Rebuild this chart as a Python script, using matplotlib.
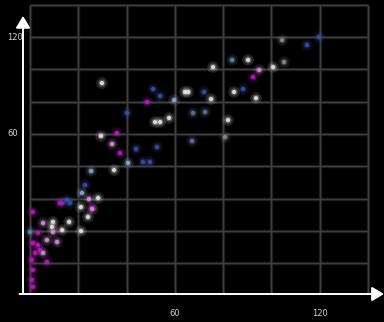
import matplotlib
matplotlib.use("Agg")
import matplotlib.pyplot as plt

# point values
x_vals = [104.4, 114.7, 119.7, 83.7, 90.3, 105.2, 75.8, 94.9, 100.7, 92.4,
          64.2, 65.5, 72.1, 84.5, 88.2, 75.0, 93.6, 67.5, 72.5, 82.0, 80.8,
          29.8, 51.0, 53.9, 48.5, 59.7, 57.6, 51.8, 53.9, 40.2, 29.4, 36.0,
          34.0, 37.3, 43.9, 52.6, 67.1, 40.6, 46.8, 49.7, 25.3, 34.8, 22.8,
          21.5, 24.4, 28.2, 21.1, 26.1, 24.0, 15.3, 13.3, 16.6, 12.4, 21.1,
          16.2, 9.5, 13.3, 9.1, 5.4, 1.2, 3.3, 9.5, 7.0, 11.2, 1.2, 4.1,
          2.1, 5.4, 0.8, 7.0, 1.2, 0.8, 1.2, 3.3, 0.0, 25.7]
y_vals = [118.1, 115.0, 120.0, 105.8, 105.8, 104.5, 101.4, 99.6, 101.4, 95.2,
          86.0, 86.0, 86.0, 86.0, 87.8, 81.6, 82.2, 73.0, 73.6, 68.6, 58.1,
          91.5, 87.8, 83.5, 79.8, 81.0, 69.9, 67.4, 67.4, 73.0, 58.8, 60.6,
          53.8, 48.2, 50.7, 51.9, 55.7, 42.1, 42.7, 42.7, 37.1, 37.7, 28.4,
          23.5, 19.8, 20.4, 14.8, 14.2, 8.7, 19.2, 17.3, 17.3, 17.3, 0.0,
          5.6, 5.6, 0.6, 2.5, 4.9, 11.8, -1.2, -0.6, -5.6, -6.8, -7.4, -11.8,
          -13.6, -13.6, -17.9, -19.2, -24.1, -30.3, -34.6, -8.7, -0.6, 13.6]
groups = ["grey", "blue", "blue", "teal", "white", "grey", "white", "pink", "white", "magenta",
          "white", "white", "blue", "white", "blue", "white", "white", "greyblue", "greyblue", "white", "grey",
          "white", "blue", "blue", "magenta", "lightblue", "white", "white", "white", "blue", "white", "magenta",
          "pink", "magenta", "blue", "blue", "greyblue", "lightblue", "blue", "blue", "lightblue", "white", "blue",
          "lightblue", "pink", "white", "white", "magenta", "white", "blue", "purple", "blue", "magenta", "white",
          "white", "white", "white", "white", "pink", "magenta", "magenta", "pink", "pink", "pink", "magenta", "magenta",
          "magenta", "pink", "magenta", "magenta", "magenta", "magenta", "magenta", "magenta", "teal", "pink"]

palette = {"magenta": "#b81cb8", "pink": "#d890d8", "white": "#e6e6e6",
           "blue": "#3a50a8", "lightblue": "#94a6d4", "grey": "#8c8c92",
           "teal": "#5c90a0", "greyblue": "#66729a", "purple": "#7038b0"}
colors = [palette[g] for g in groups]

x_ticks = [60, 120]
y_ticks = [60, 120]
grid_step = 20

fig = plt.figure(figsize=(3.84, 3.22), dpi=100, facecolor="black")
ax = fig.add_axes([23 / 384, 28 / 322, 361 / 384, 294 / 322])
ax.set_facecolor("black")
ax.set_xlim(-2.9, 146.6)
ax.set_ylim(-39, 142.9)
for s in ax.spines.values():
    s.set_visible(False)
ax.set_xticks([])
ax.set_yticks([])

# grid limited to the box, soft look
gx = list(range(0, 141, grid_step))
gy = list(range(-20, 141, grid_step))
ax.vlines(gx, -39, 140, colors="#1c1c1c", lw=2.4, zorder=1)
ax.hlines(gy, 0, 140, colors="#1c1c1c", lw=2.4, zorder=1)
ax.vlines(gx, -39, 140, colors="#3e3e3e", lw=0.9, zorder=1)
ax.hlines(gy, 0, 140, colors="#3e3e3e", lw=0.9, zorder=1)

# glow + core
ax.scatter(x_vals, y_vals, s=70, c=colors, alpha=0.14, linewidths=0, zorder=2)
ax.scatter(x_vals, y_vals, s=26, c=colors, alpha=0.3, linewidths=0, zorder=3)
ax.scatter(x_vals, y_vals, s=9, c=colors, alpha=0.9, linewidths=0, zorder=4)

# axis arrows
head = "-|>,head_length=0.8,head_width=0.48"
arrow = dict(arrowstyle=head, color="white", lw=1.4, mutation_scale=9,
             shrinkA=0, shrinkB=0)
ax.annotate("", xy=(1.0, 0), xytext=(-0.01, 0), xycoords="axes fraction",
            arrowprops=arrow, annotation_clip=False)
ax.annotate("", xy=(0, 0.946), xytext=(0, 0), xycoords="axes fraction",
            arrowprops=arrow, annotation_clip=False)

for t in x_ticks:
    ax.text(t, -0.065, str(t), transform=ax.get_xaxis_transform(), ha="center",
            va="center", color="#d0d0d0", fontsize=6)
for t in y_ticks:
    ax.text(-0.044, t, str(t), transform=ax.get_yaxis_transform(), ha="left",
            va="center", color="#d0d0d0", fontsize=6)

fig.savefig("out.png", dpi=100, facecolor="black")
